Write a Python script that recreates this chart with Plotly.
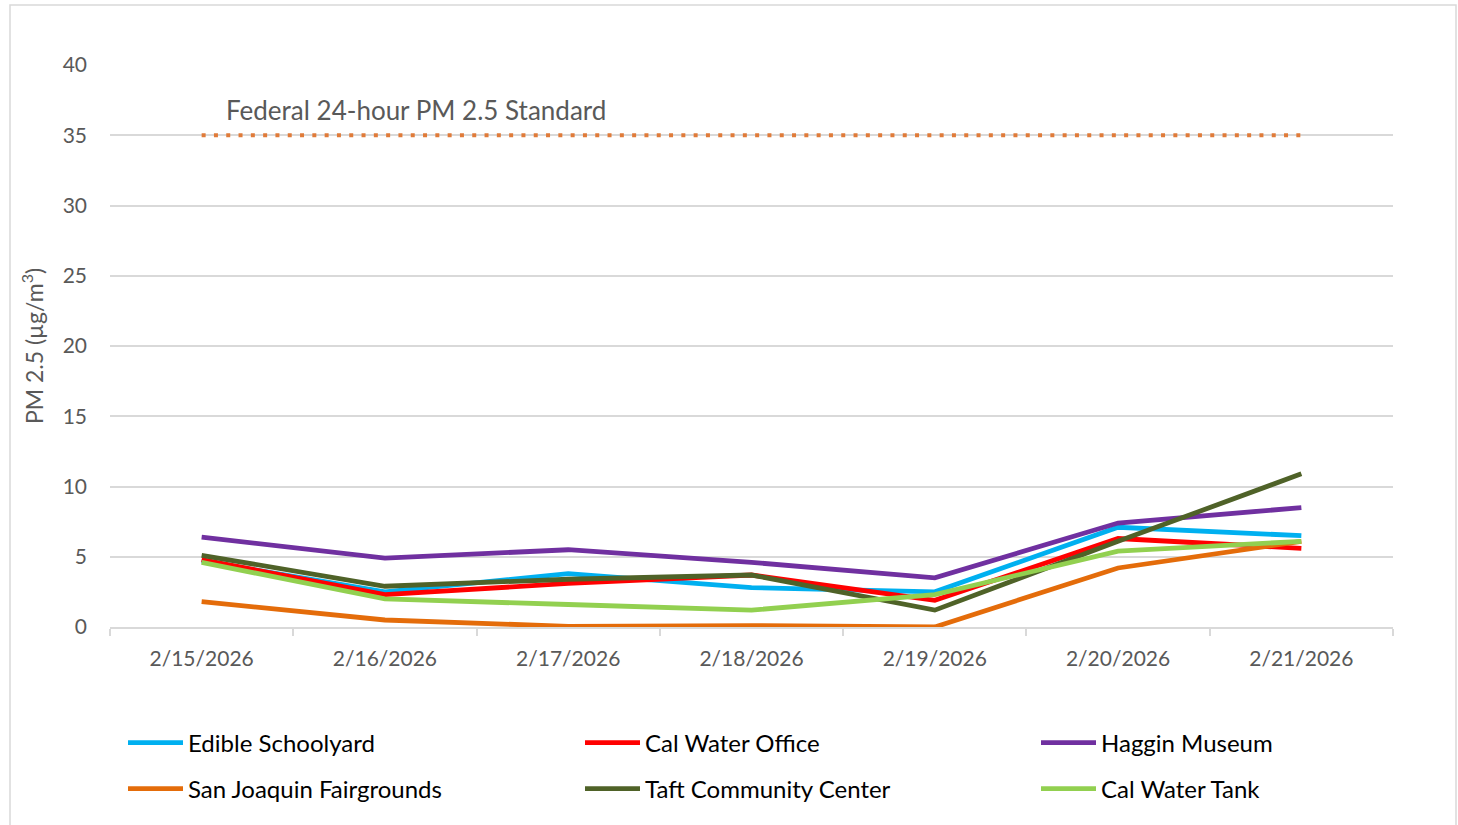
import plotly.graph_objects as go

dates = ["2/15/2026", "2/16/2026", "2/17/2026", "2/18/2026", "2/19/2026", "2/20/2026", "2/21/2026"]

edible_schoolyard = [4.7, 2.5, 3.8, 2.8, 2.5, 7.1, 6.5]
cal_water_office = [4.8, 2.3, 3.1, 3.7, 1.9, 6.3, 5.6]
haggin_museum = [6.4, 4.9, 5.5, 4.6, 3.5, 7.4, 8.5]
san_joaquin_fairgrounds = [1.8, 0.5, 0.05, 0.1, 0.0, 4.2, 6.1]
taft_community_center = [5.1, 2.9, 3.4, 3.7, 1.2, 6.1, 10.9]
cal_water_tank = [4.6, 2.0, 1.6, 1.2, 2.3, 5.4, 6.1]
federal_standard = [35, 35, 35, 35, 35, 35, 35]

series = [
    ("Edible Schoolyard", edible_schoolyard, "#00B0F0"),
    ("Cal Water Office", cal_water_office, "#FF0000"),
    ("Haggin Museum", haggin_museum, "#7030A0"),
    ("San Joaquin Fairgrounds", san_joaquin_fairgrounds, "#E46C0A"),
    ("Taft Community Center", taft_community_center, "#4F6228"),
    ("Cal Water Tank", cal_water_tank, "#92D050"),
]

FONT = "Lato, 'Open Sans', sans-serif"
GRID = "#D9D9D9"
W, H = 1458, 825

fig = go.Figure()

fig.add_trace(go.Scatter(
    x=dates, y=federal_standard, mode="lines", showlegend=False,
    line=dict(color="#E07B39", width=4, dash="4px,8.3px"),
    hoverinfo="skip",
))

# legend placement: one legend per entry, 3 columns x 2 rows (pixel positions -> container fractions)
col_px = [123, 580, 1036]
row_px = [743, 789]
legend_layouts = {}
for i, (name, vals, color) in enumerate(series):
    key = "legend" if i == 0 else f"legend{i + 1}"
    fig.add_trace(go.Scatter(
        x=dates, y=vals, mode="lines", name=name, legend=key,
        line=dict(color=color, width=4.8),
    ))
    legend_layouts[key] = dict(
        xref="container", yref="container",
        x=col_px[i % 3] / W, xanchor="left",
        y=1 - row_px[i // 3] / H, yanchor="middle",
        orientation="h", itemwidth=55,
        font=dict(family=FONT, size=24, color="#000000"),
        bgcolor="rgba(0,0,0,0)",
    )

fig.add_annotation(
    text="Federal 24-hour PM 2.5 Standard",
    xref="paper", yref="y", x=(224 - 110) / 1283, y=36.8,
    xanchor="left", yanchor="middle", showarrow=False,
    font=dict(family=FONT, size=26, color="#595959"),
)

# outer chart border
fig.add_shape(
    type="rect", xref="paper", yref="paper",
    x0=(10 - 110) / 1283, x1=(1456 - 110) / 1283,
    y0=(627 - 830) / 562, y1=(627 - 5) / 562,
    line=dict(color=GRID, width=1.5), fillcolor="rgba(0,0,0,0)", layer="below",
)

fig.update_layout(
    width=W, height=H,
    margin=dict(l=110, r=65, t=65, b=198),
    paper_bgcolor="white", plot_bgcolor="white",
    font=dict(family=FONT, size=21, color="#595959"),
    xaxis=dict(
        type="category", range=[-0.5, 6.5],
        showgrid=False, showline=True, linecolor=GRID, linewidth=1.5,
        ticks="outside", tickson="boundaries", ticklen=7, tickcolor=GRID, tickwidth=1.5,
        tickfont=dict(family=FONT, size=21, color="#595959"), ticklabelstandoff=12,
        zeroline=False,
    ),
    yaxis=dict(
        range=[0, 40], dtick=5, showgrid=True, gridcolor=GRID, gridwidth=1.5,
        zeroline=False, showline=False, ticks="", ticklabelstandoff=22,
        tickfont=dict(family=FONT, size=21, color="#595959"),
        title=dict(text="PM 2.5 (µg/m<sup>3</sup>)", font=dict(family=FONT, size=23, color="#595959"), standoff=12),
    ),
    showlegend=True,
    **legend_layouts,
)

fig.write_html(
    "out.html",
    config={"displayModeBar": False},
    post_script="document.body.style.margin='0px';",
)
